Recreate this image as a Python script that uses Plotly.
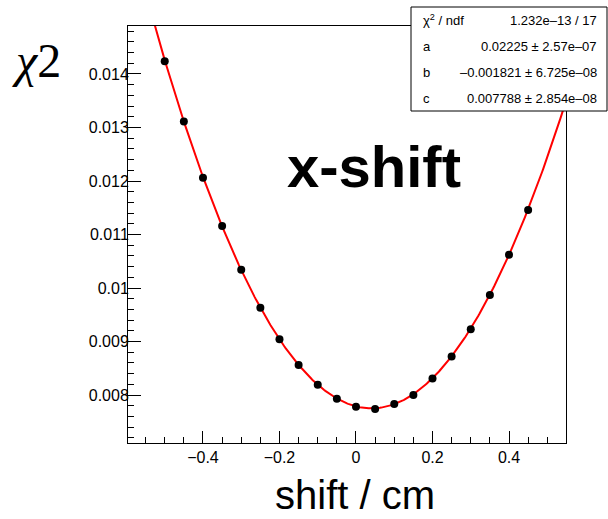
import numpy as np
import plotly.graph_objects as go

# ---- data ----
shift_cm = [-0.50, -0.45, -0.40, -0.35, -0.30, -0.25, -0.20, -0.15, -0.10, -0.05,
            0.00, 0.05, 0.10, 0.15, 0.20, 0.25, 0.30, 0.35, 0.40, 0.45]
chi2_vals = [0.01424, 0.01311, 0.01206, 0.01116, 0.01034, 0.00963, 0.00904, 0.00856,
             0.00819, 0.00793, 0.00778, 0.00774, 0.00783, 0.00800, 0.00831, 0.00872,
             0.00923, 0.00987, 0.01062, 0.01146]

# fit parameters (pol2: a*x^2 + b*x + c) from the stats box
fit_a, fit_b, fit_c = 0.02225, -0.001821, 0.007788
stats_labels = ["χ<sup>2</sup> / ndf", "a", "b", "c"]
stats_values = ["1.232e–13 / 17", "0.02225 ± 2.57e–07",
                "–0.001821 ± 6.725e–08", "0.007788 ± 2.854e–08"]

x_range = [-0.596, 0.549]
y_range = [0.007103, 0.014897]

W, H = 608, 519
L, R, T, B = 128, 566, 26, 443


def px(x):
    return (x - L) / (R - L)


def py(y):
    return (B - y) / (B - T)


xf = np.linspace(-0.62, 0.57, 400)
yf = fit_a * xf ** 2 + fit_b * xf + fit_c

fig = go.Figure()
fig.add_trace(go.Scatter(x=xf, y=yf, mode="lines",
                         line=dict(color="#ff0000", width=2), hoverinfo="skip"))
fig.add_trace(go.Scatter(x=shift_cm, y=chi2_vals, mode="markers",
                         marker=dict(color="black", size=8)))

axis_font = dict(family="Liberation Sans, Arial, sans-serif", size=16, color="black")
fig.update_layout(
    width=W, height=H,
    margin=dict(l=L, r=W - R, t=T, b=H - B, pad=0),
    paper_bgcolor="white", plot_bgcolor="white",
    showlegend=False,
    xaxis=dict(range=x_range, showgrid=False, zeroline=False,
               showline=True, linecolor="black", linewidth=1, mirror=True,
               ticks="inside", ticklen=12, tickwidth=1, tickcolor="black",
               dtick=0.2, tick0=0, tickfont=axis_font,
               minor=dict(ticks="inside", ticklen=6, dtick=0.05, tickcolor="black")),
    yaxis=dict(range=y_range, showgrid=False, zeroline=False,
               showline=True, linecolor="black", linewidth=1, mirror=True,
               ticks="inside", ticklen=13, tickwidth=1, tickcolor="black",
               dtick=0.001, tick0=0, tickfont=axis_font, ticklabelstandoff=-5,
               minor=dict(ticks="inside", ticklen=6, dtick=0.0002, tickcolor="black")),
)

# stats box
bx0, bx1, by0, by1 = 411, 607, 7, 111
fig.add_shape(type="rect", xref="paper", yref="paper",
              x0=px(bx0), x1=px(bx1), y0=py(by1), y1=py(by0),
              line=dict(color="black", width=1), fillcolor="white", layer="above")
stat_font = dict(family="Liberation Sans, Arial, sans-serif", size=13, color="black")
row_h = (by1 - by0) / len(stats_labels)
for i, (lab, val) in enumerate(zip(stats_labels, stats_values)):
    yc = by0 + row_h * (i + 0.5)
    fig.add_annotation(xref="paper", yref="paper", x=px(421), y=py(yc),
                       text=lab, showarrow=False, xanchor="left", yanchor="middle",
                       font=stat_font)
    fig.add_annotation(xref="paper", yref="paper", x=px(599), y=py(yc),
                       text=val, showarrow=False, xanchor="right", yanchor="middle",
                       font=stat_font)

# big label
fig.add_annotation(xref="paper", yref="paper", x=px(374), y=py(166),
                   text="<b>x-shift</b>", showarrow=False,
                   xanchor="center", yanchor="middle",
                   font=dict(family="Liberation Sans, Arial, sans-serif", size=58, color="black"))
# axis titles
fig.add_annotation(xref="paper", yref="paper", x=px(355), y=py(518),
                   text="shift / cm", showarrow=False,
                   xanchor="center", yanchor="bottom", borderpad=0,
                   font=dict(family="Liberation Sans, Arial, sans-serif", size=40, color="black"))
fig.add_annotation(xref="paper", yref="paper", x=px(36), y=py(60),
                   text="<i>χ</i>2", showarrow=False,
                   xanchor="center", yanchor="middle",
                   font=dict(family="Liberation Serif, Times New Roman, serif", size=48, color="black"))

fig.write_html("out.html", config={"displayModeBar": False},
               post_script="document.body.style.margin='0';document.body.style.overflow='hidden';")
